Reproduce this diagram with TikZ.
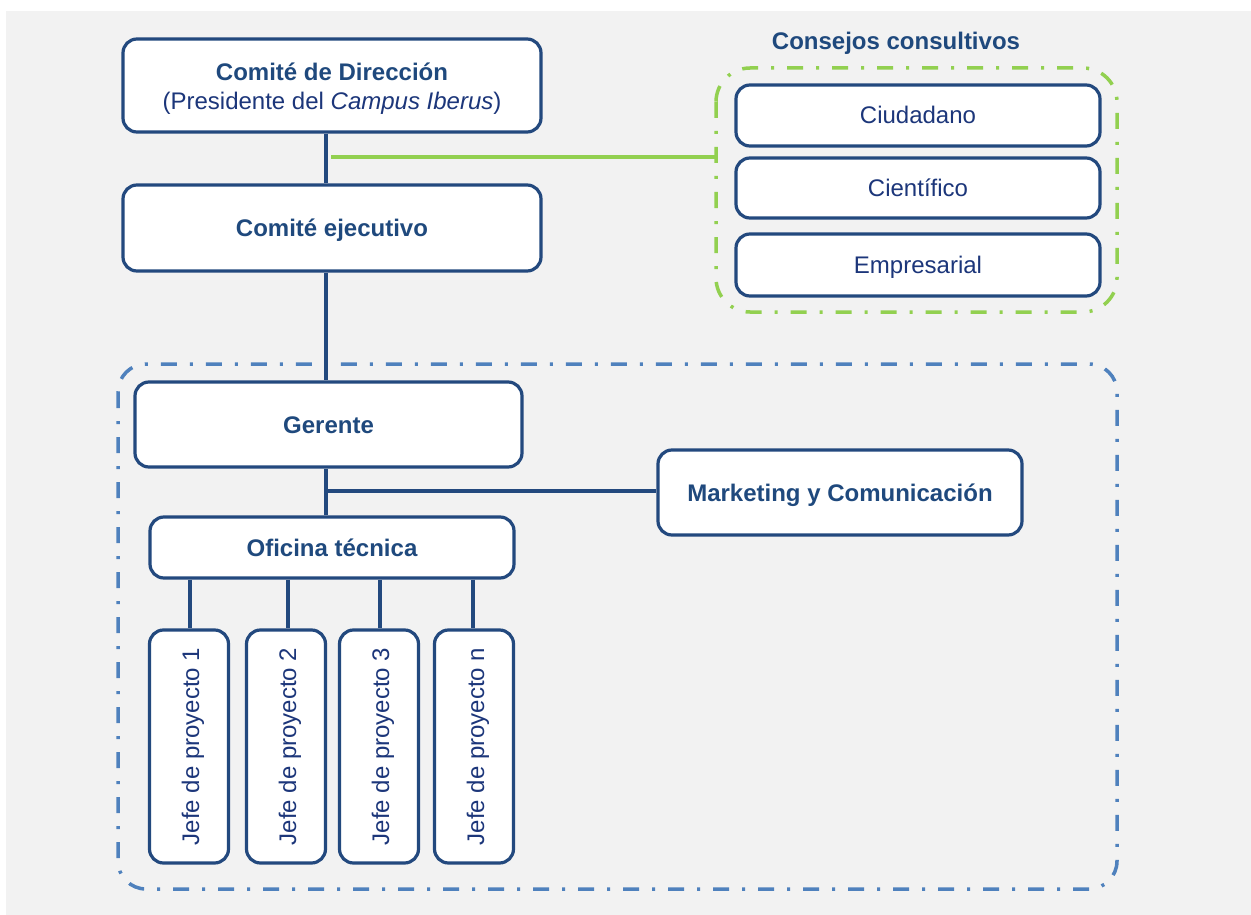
\documentclass[tikz,border=0pt]{standalone}
\usepackage{fontspec}
\setmainfont{Liberation Sans}
\begin{document}
\begin{tikzpicture}[x=1pt,y=-1pt,
  stroke/.style={draw=boxblue,line width=3.2pt},
  box/.style={stroke,fill=white,rounded corners=14pt,align=center,text=txtblue,
    font=\fontsize{24}{29}\selectfont,inner sep=0pt,text height=17pt,text depth=0pt},
  bbox/.style={box,text=ttlblue,font=\fontsize{24}{29}\selectfont\bfseries},
  conn/.style={draw=boxblue,line width=3.2pt},
  dashdot/.style={line width=3.5pt,dash pattern=on 16pt off 13pt on 3pt off 13pt}
]
\definecolor{boxblue}{RGB}{35,73,126}
\definecolor{txtblue}{RGB}{28,54,122}
\definecolor{ttlblue}{RGB}{31,73,125}
\definecolor{bggray}{RGB}{242,242,242}
\definecolor{dgreen}{RGB}{146,208,80}
\definecolor{dblue}{RGB}{79,129,189}
\useasboundingbox (0,0) rectangle (1251,915);
\fill[white] (0,0) rectangle (1251,915);
\fill[bggray] (6,11) rectangle (1251,915);

% dashed groups
\draw[dashdot,draw=dgreen,rounded corners=34pt] (716,68) rectangle (1117,312);
\draw[dashdot,draw=dblue,rounded corners=28pt] (118,364) rectangle (1117,889);

\node[font=\fontsize{24}{29}\selectfont\bfseries,text=ttlblue] (cc) at (896,43) {Consejos consultivos};

% nodes
\node[box,minimum width=418pt,minimum height=93pt,text height=,text depth=] (cd) at (332,85.5) {};
\node[align=center,text=txtblue,font=\fontsize{24}{29}\selectfont] (cdt) at (332,89)
  {\textbf{\color{ttlblue}Comité de Dirección}\\(Presidente del \textit{Campus Iberus})};
\node[bbox,minimum width=418pt,minimum height=86pt] (ce) at (332,228) {Comité ejecutivo};

\node[box,minimum width=364pt,minimum height=61pt] (ciu) at (918,115.5) {Ciudadano};
\node[box,minimum width=364pt,minimum height=60pt] (cie) at (918,188) {Científico};
\node[box,minimum width=364pt,minimum height=62pt] (emp) at (918,265) {Empresarial};

\node[bbox,minimum width=387pt,minimum height=85pt] (ger) at (328.5,424.5) {Gerente};
\node[bbox,minimum width=364pt,minimum height=85pt] (mk) at (840,492.5) {Marketing y Comunicación};
\node[bbox,minimum width=364pt,minimum height=61pt] (of) at (332,547.5) {Oficina técnica};

\foreach \n/\x/\t in {j1/189/1,j2/286/2,j3/379/3,j4/474/n}{
  \node[box,minimum width=79pt,minimum height=233pt] (\n) at (\x,746.5) {};
  \node[text=txtblue,font=\fontsize{24}{29}\selectfont,rotate=90,text height=17pt,text depth=0pt,inner sep=0pt] at ([xshift=1.5pt]\n.center) {Jefe de proyecto \t};
}

% connectors
\draw[conn] (cd.south -| 326,0) -- (ce.north -| 326,0);
\draw[conn] (ce.south -| 326,0) -- (ger.north -| 326,0);
\draw[conn] (ger.south -| 326,0) -- (of.north -| 326,0);
\coordinate (mj) at (326,491);
\draw[conn] (mj) -- (mk.west |- mj);
\coordinate (gj) at (331,157);
\draw[draw=dgreen,line width=3.2pt] (gj) -- (716,157);
\draw[conn] (of.south -| 190,0) -- (j1.north -| 190,0);
\draw[conn] (of.south -| 288,0) -- (j2.north -| 288,0);
\draw[conn] (of.south -| 380,0) -- (j3.north -| 380,0);
\draw[conn] (of.south -| 473,0) -- (j4.north -| 473,0);
\end{tikzpicture}
\end{document}
